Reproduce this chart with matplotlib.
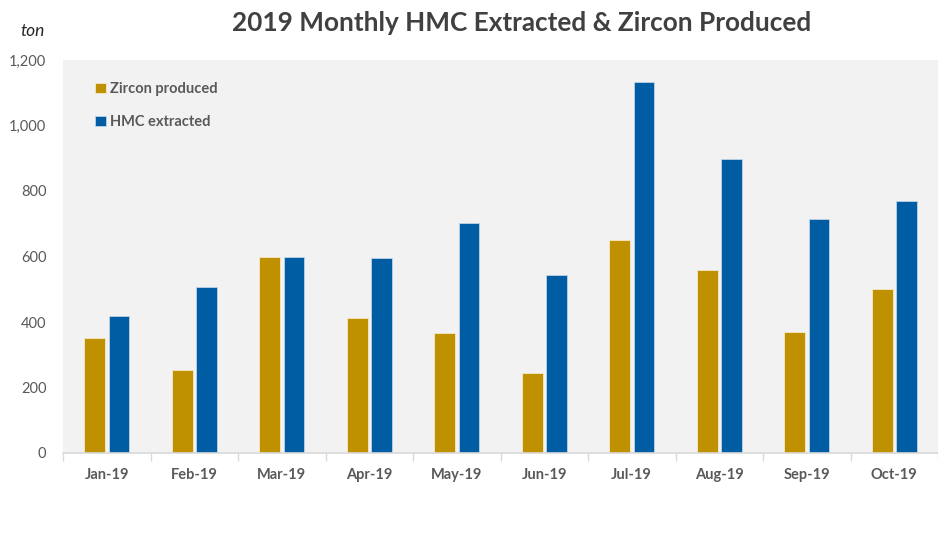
import numpy as np
import matplotlib.pyplot as plt

# Datos del grafico
months = ["Jan-19", "Feb-19", "Mar-19", "Apr-19", "May-19",
          "Jun-19", "Jul-19", "Aug-19", "Sep-19", "Oct-19"]
zircon = [350, 252, 600, 412, 366, 244, 649, 559, 370, 502]
hmc = [418, 507, 600, 595, 702, 543, 1134, 898, 713, 770]

gold = "#BF9000"
blue = "#005DA4"
txt = "#595959"

plt.rcParams['font.family'] = ['Lato', 'DejaVu Sans']

fig = plt.figure(figsize=(9.38, 5.38), dpi=100)
ax = fig.add_axes([63/938, 1-453/538, 1-63/938, (453-60)/538])
ax.set_facecolor("#F2F2F2")

x = np.arange(len(months))
w = 0.235
ax.bar(x - 0.137, zircon, w, color=gold, edgecolor="#F5E9C8", linewidth=0.6,
       label="Zircon produced", zorder=2)
ax.bar(x + 0.142, hmc, w, color=blue, edgecolor="#BFD3E6", linewidth=0.6,
       label="HMC extracted", zorder=2)

ax.set_xlim(-0.5, len(months) - 0.5)
ax.set_ylim(0, 1200)
ax.set_yticks(range(0, 1201, 200))
ax.set_yticklabels([f"{v:,}" for v in range(0, 1201, 200)])

# ticks entre categorias
ax.set_xticks(np.arange(-0.5, len(months), 1.0))
ax.set_xticklabels([])
ax.set_xticks(x, minor=True)
ax.set_xticklabels(months, minor=True, fontweight="bold", fontsize=10.5, color=txt)
ax.tick_params(axis="x", which="major", length=6, color="#D9D9D9", width=1)
ax.tick_params(axis="x", which="minor", length=0, pad=11)
ax.tick_params(axis="y", length=0, labelsize=10.5, labelcolor=txt, pad=12)

for s in ["top", "right", "left"]:
    ax.spines[s].set_visible(False)
ax.spines["bottom"].set_color("#D9D9D9")
ax.spines["bottom"].set_linewidth(1.2)

fig.text(522/938, 1-23/538, "2019 Monthly HMC Extracted & Zircon Produced",
         ha="center", va="center", fontsize=18.8, fontweight="bold", color="#404040")
fig.text(20/938, 1-31/538, "ton", ha="left", va="center", fontsize=12.5,
         style="italic", color="#262626")

leg = ax.legend(loc="upper left", bbox_to_anchor=(0.022, 0.977), frameon=False,
                handlelength=0.7, handleheight=0.7, handletextpad=0.3,
                labelspacing=1.3, prop={"weight": "bold", "size": 10.5})
for t in leg.get_texts():
    t.set_color(txt)

plt.savefig("out.png", dpi=100)
